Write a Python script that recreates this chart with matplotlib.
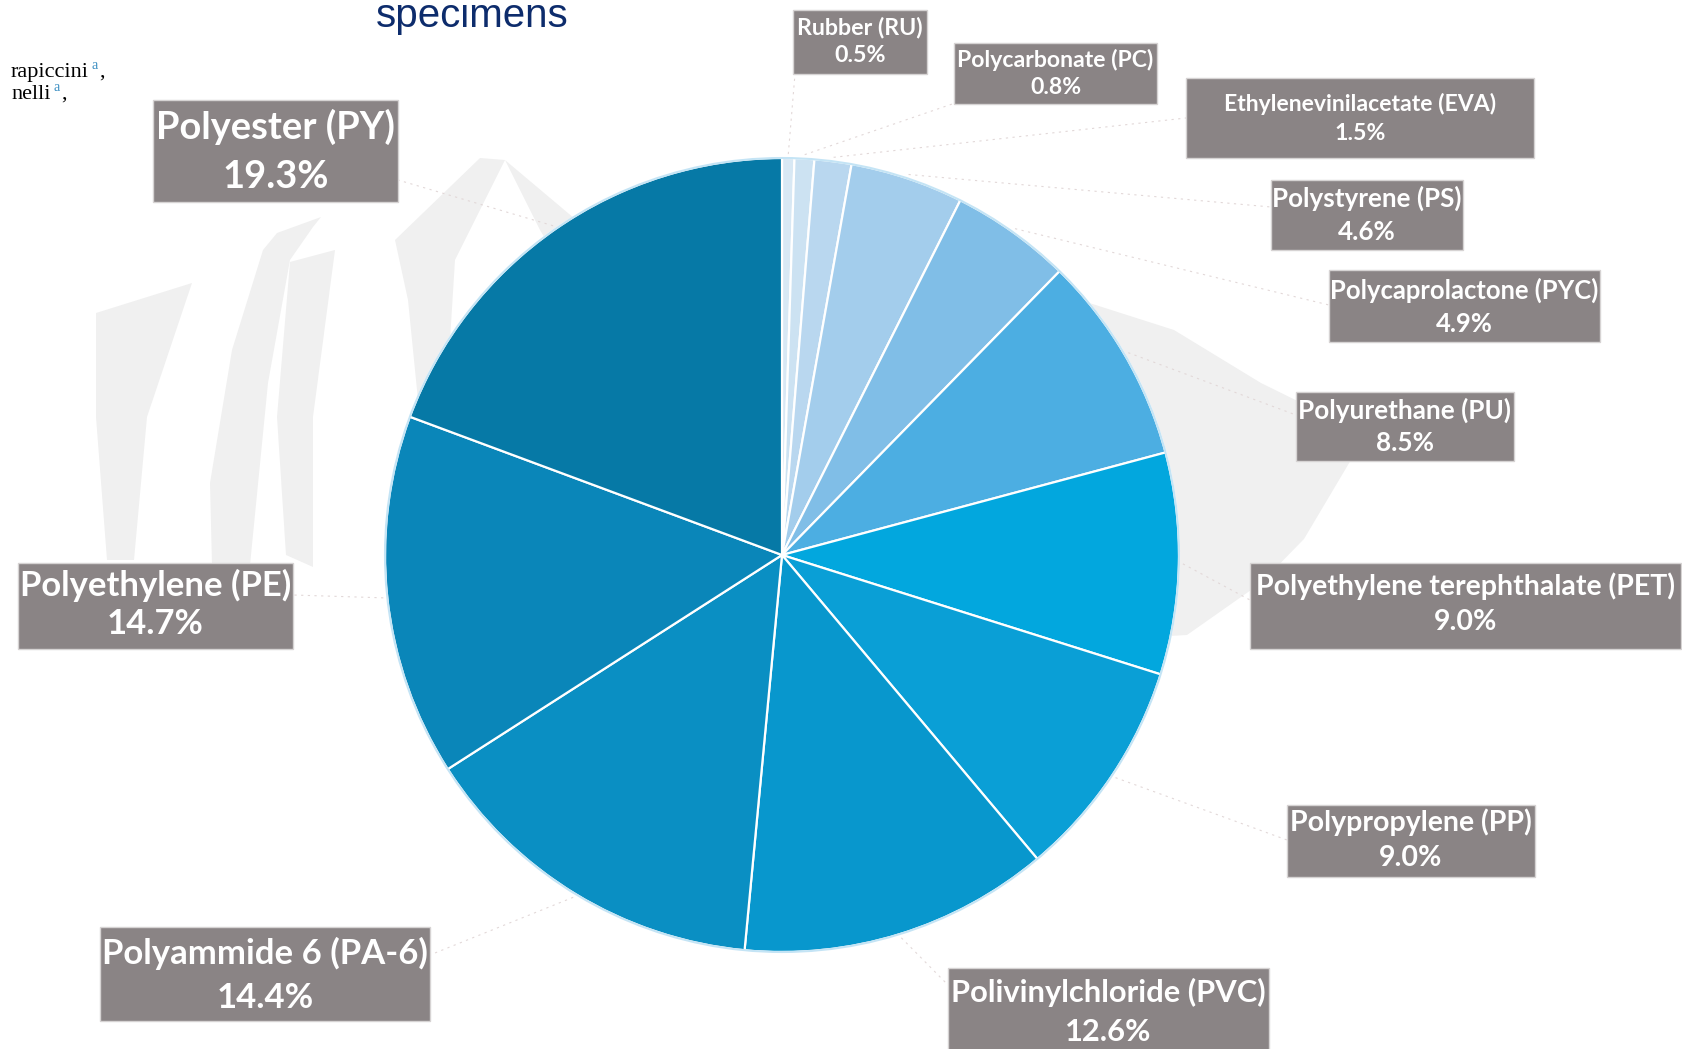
import numpy as np
import matplotlib.pyplot as plt
from matplotlib.patches import Rectangle, Polygon

# --- Data: polymer share of the specimens, clockwise from 12 o'clock ---
polymers = ['Rubber (RU)', 'Polycarbonate (PC)', 'Ethylenevinilacetate (EVA)',
            'Polystyrene (PS)', 'Polycaprolactone (PYC)', 'Polyurethane (PU)',
            'Polyethylene terephthalate (PET)', 'Polypropylene (PP)',
            'Polivinylchloride (PVC)', 'Polyammide 6 (PA-6)', 'Polyethylene (PE)',
            'Polyester (PY)']
shares = [0.5, 0.8, 1.5, 4.6, 4.9, 8.5, 9.0, 9.0, 12.6, 14.4, 14.7, 19.3]
colors = ['#d8e8f4', '#cce2f2', '#b9d7ef', '#a3cdec', '#80bee7', '#4caee2',
          '#02a7de', '#0a9fd6', '#0897cd', '#0a8fc3', '#0a86b9', '#0679a6']

# --- Layout (pixels, origin top-left) ---
W, H = 1682, 1049
center, radius = (782, 555), 397
# label box: x0, y0, x1, y1, y of name line, y of value line, width of name text
boxes = [
    (793, 10, 927, 74, 27, 56, 126),
    (954, 43, 1157, 104, 60, 88, 196),
    (1186, 78, 1534, 158, 104, 134, 272),
    (1271, 180, 1463, 250, 198, 232, 189),
    (1329, 270, 1600, 342, 290, 324, 268),
    (1296, 392, 1514, 461, 410, 443, 212),
    (1250, 563, 1681, 649, 586, 622, 420),
    (1287, 805, 1535, 877, 822, 858, 242),
    (948, 968, 1269, 1060, 992, 1032, 314),
    (100, 927, 430, 1021, 953, 998, 326),
    (18, 563, 293, 649, 585, 624, 271),
    (153, 100, 398, 202, 127, 177, 239),
]
# where each leader line meets its box
leader_ends = [(795, 74), (958, 102), (1186, 118), (1271, 207), (1329, 305),
               (1296, 415), (1250, 600), (1287, 840), (948, 985), (430, 955),
               (293, 595), (398, 180)]

# faint background logo shapes
watermark = [
    [(96, 313), (192, 283), (147, 417), (134, 560), (107, 560), (96, 417)],
    [(263, 250), (277, 233), (321, 217), (313, 227), (290, 260), (268, 383),
     (250, 565), (212, 565), (210, 483), (232, 350)],
    [(290, 262), (335, 250), (313, 417), (313, 567), (286, 555), (277, 417)],
    [(395, 240), (480, 158), (505, 160), (455, 260), (445, 420), (420, 420), (408, 300)],
    [(505, 160), (600, 240), (640, 330), (600, 330), (540, 230)],
    [(1080, 300), (1174, 330), (1261, 383), (1330, 417), (1361, 443), (1304, 539),
     (1261, 583), (1187, 635), (1100, 640)],
]

plt.rcParams['font.family'] = 'Lato'
fig = plt.figure(figsize=(W / 100, H / 100), dpi=100)
ax = fig.add_axes([0, 0, 1, 1])

for pts in watermark:
    ax.add_patch(Polygon(pts, closed=True, facecolor='#f0f0f0', edgecolor='none', zorder=0))

# y axis is flipped below, so counterclock here runs clockwise on screen
wedges, _ = ax.pie(shares, colors=colors, startangle=-90, counterclock=True,
                   center=center, radius=radius,
                   wedgeprops=dict(edgecolor='white', linewidth=1.6, zorder=2))
ax.add_patch(plt.Circle(center, radius, fill=False, edgecolor='#c4e4f5', lw=1.5, zorder=2.5))

ax.set_xlim(0, W)
ax.set_ylim(H, 0)
ax.set_aspect('equal')
ax.axis('off')

# leader lines from the middle of each wedge to its label
cum = np.cumsum(shares) / np.sum(shares)
mid = (cum - np.array(shares) / np.sum(shares) / 2) * 2 * np.pi
for a, (ex, ey) in zip(mid, leader_ends):
    px = center[0] + (radius + 4) * np.sin(a)
    py = center[1] - (radius + 4) * np.cos(a)
    ax.plot([px, ex], [py, ey], color='#e2d8d8', lw=0.8, ls=(0, (2, 4)), zorder=1)

fig.canvas.draw()
renderer = fig.canvas.get_renderer()
for name, val, (x0, y0, x1, y1, ya, yb, tw) in zip(polymers, shares, boxes):
    ax.add_patch(Rectangle((x0, y0), x1 - x0, y1 - y0, facecolor='#8a8485',
                           edgecolor='#d6d3d3', lw=1, zorder=3))
    cx = (x0 + x1) / 2
    t = ax.text(cx, ya, name, fontsize=20, weight='bold', color='white',
                ha='center', va='center', zorder=4)
    fs = 20 * tw / t.get_window_extent(renderer).width
    t.set_fontsize(fs)
    ax.text(cx, yb, f'{val:.1f}%', fontsize=fs, weight='bold', color='white',
            ha='center', va='center', zorder=4)

# slide fragments around the chart
ax.text(472, 27, 'specimens', fontsize=29, color='#0d2c6c', family='Liberation Sans',
        ha='center', va='baseline')
for word, x, y in [('rapiccini', 89, 77), ('nelli', 51, 99)]:
    ax.text(x, y, word, fontsize=16, family='Liberation Serif', ha='right', va='baseline')
    ax.text(x + 3, y - 8, 'a', fontsize=10, color='#3b8ec2', family='Liberation Serif',
            ha='left', va='baseline')
    ax.text(x + 10, y, ',', fontsize=16, family='Liberation Serif', ha='left', va='baseline')

fig.savefig('out.png', dpi=100, facecolor='white')
